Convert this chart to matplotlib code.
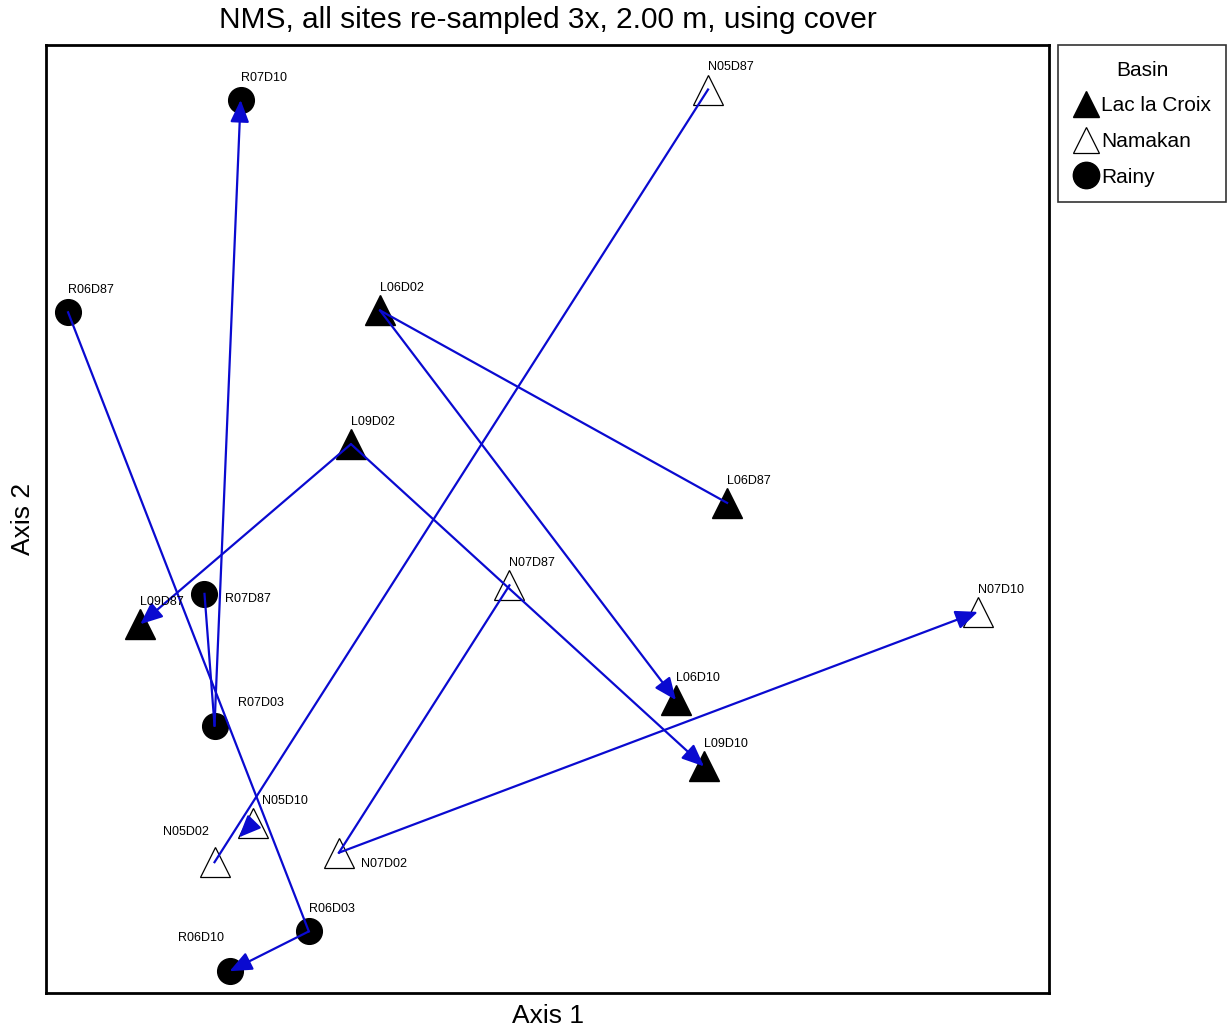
import matplotlib.pyplot as plt
from matplotlib.lines import Line2D

plt.rcParams['font.family'] = ['Liberation Sans', 'DejaVu Sans']

# NMS scores (axis 1, axis 2)
sites = ['R07D10', 'N05D87', 'R06D87', 'L06D02', 'L09D02', 'L06D87', 'N07D87',
         'N07D10', 'R07D87', 'L09D87', 'L06D10', 'R07D03', 'L09D10', 'N05D10',
         'N05D02', 'N07D02', 'R06D03', 'R06D10']
basin = ['Rainy', 'Namakan', 'Rainy', 'Lac la Croix', 'Lac la Croix', 'Lac la Croix',
         'Namakan', 'Namakan', 'Rainy', 'Lac la Croix', 'Lac la Croix', 'Rainy',
         'Lac la Croix', 'Namakan', 'Namakan', 'Namakan', 'Rainy', 'Rainy']
axis1 = [0.194, 0.660, 0.022, 0.333, 0.304, 0.679, 0.462, 0.929, 0.158,
         0.094, 0.628, 0.168, 0.656, 0.206, 0.168, 0.292, 0.262, 0.183]
axis2 = [0.942, 0.953, 0.718, 0.720, 0.579, 0.517, 0.430, 0.402, 0.421,
         0.389, 0.309, 0.282, 0.239, 0.179, 0.138, 0.148, 0.065, 0.023]

# successional vectors: (from, to, arrow head)
vectors = [('R06D87', 'R06D03', False), ('R06D03', 'R06D10', True),
           ('R07D87', 'R07D03', False), ('R07D03', 'R07D10', True),
           ('L06D87', 'L06D02', False), ('L06D02', 'L06D10', True),
           ('L09D02', 'L09D87', True), ('L09D02', 'L09D10', True),
           ('N05D87', 'N05D02', False), ('N05D10', 'N05D02', True),
           ('N07D87', 'N07D02', False), ('N07D02', 'N07D10', True)]

# label offsets in points (default: above, left aligned at the point)
label_offset = {'N05D02': (-4, 22, 'right'), 'R07D87': (15, -4, 'left'),
                'N07D02': (16, -8, 'left'), 'R06D10': (-4, 24, 'right'),
                'R07D03': (17, 16, 'left'), 'N05D10': (7, 16, 'left')}

pos = {s: (axis1[i], axis2[i]) for i, s in enumerate(sites)}
style = {'Lac la Croix': dict(marker='^', mfc='black', mec='black', ms=21),
         'Namakan': dict(marker='^', mfc='white', mec='black', ms=21, mew=0.9),
         'Rainy': dict(marker='o', mfc='black', mec='black', ms=18.5)}

fig = plt.figure(figsize=(12.27, 10.36), dpi=100)
ax = fig.add_axes([0.0375, 0.0415, 0.8175, 0.9151])

for i, s in enumerate(sites):
    ax.plot(axis1[i], axis2[i], linestyle='none', zorder=2, **style[basin[i]])

blue = '#0a0ad0'
for a, b, head in vectors:
    shrink = 25 if (a, b) == ('N05D10', 'N05D02') else 0
    if head:
        ax.annotate('', xy=pos[b], xytext=pos[a],
                    arrowprops=dict(arrowstyle='-|>,head_length=0.75,head_width=0.32',
                                    color=blue, lw=1.6, mutation_scale=18,
                                    shrinkA=0, shrinkB=shrink), zorder=3)
    else:
        ax.plot([pos[a][0], pos[b][0]], [pos[a][1], pos[b][1]], color=blue, lw=1.6, zorder=3)

for s in sites:
    x, y = pos[s]
    dx, dy, ha = label_offset.get(s, (0, 16, 'left'))
    ax.annotate(s, (x, y), xytext=(dx, dy), textcoords='offset points',
                ha=ha, va='center', fontsize=9)

ax.set_xlim(0, 1)
ax.set_ylim(0, 1)
ax.set_xticks([])
ax.set_yticks([])
for sp in ax.spines.values():
    sp.set_linewidth(2)

ax.set_title('NMS, all sites re-sampled 3x, 2.00 m, using cover', fontsize=21.5, pad=12)
ax.set_xlabel('Axis 1', fontsize=19, labelpad=8)
ax.set_ylabel('Axis 2', fontsize=19, labelpad=8)

handles = [Line2D([], [], linestyle='none', **style[k]) for k in ['Lac la Croix', 'Namakan', 'Rainy']]
for h in handles:
    h.set_markersize(19)
leg = ax.legend(handles, ['Lac la Croix', 'Namakan', 'Rainy'], title='Basin',
                loc='upper left', bbox_to_anchor=(1.009, 1.0), fontsize=15, title_fontsize=15,
                frameon=True, fancybox=False, edgecolor='black', handletextpad=0.15,
                handlelength=1.15, borderaxespad=0, labelspacing=0.8, borderpad=0.75)
leg.get_frame().set_linewidth(1.2)

fig.savefig('out.png', dpi=100)
